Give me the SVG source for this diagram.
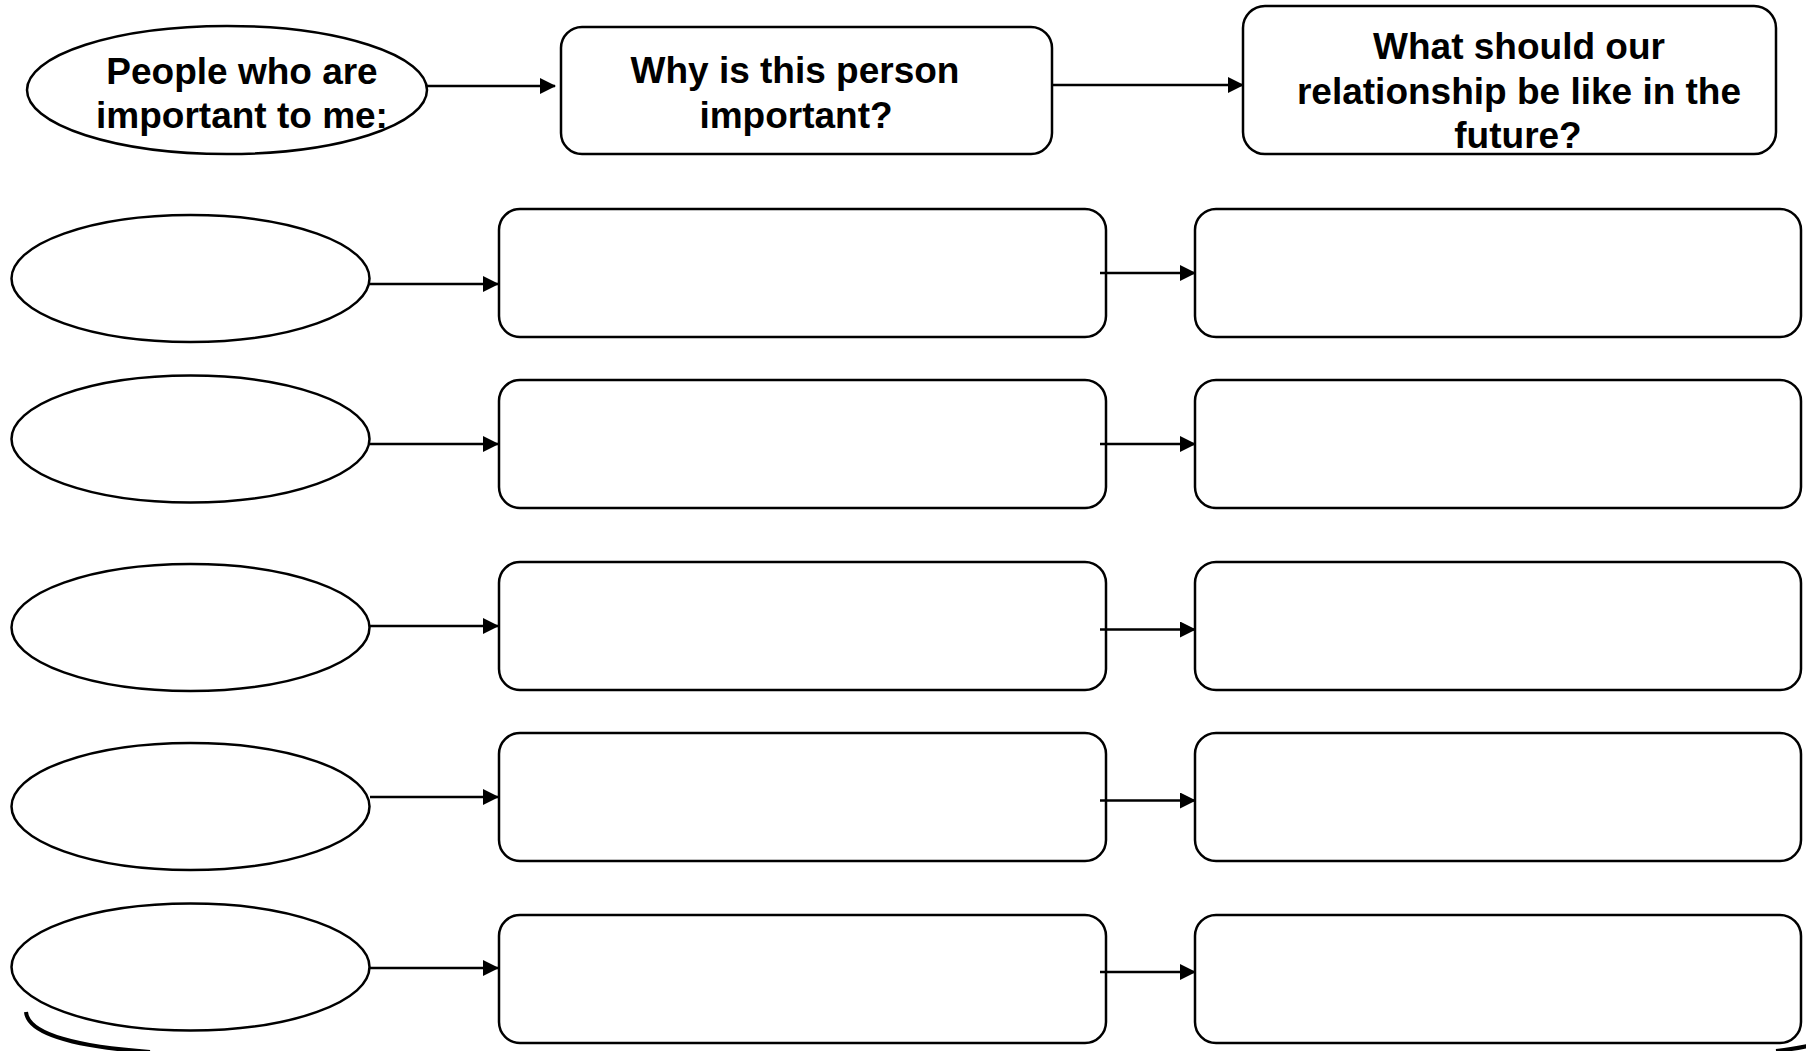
<svg xmlns="http://www.w3.org/2000/svg" width="1806" height="1051" viewBox="0 0 1806 1051">
  <style>
    .shape { fill: #ffffff; stroke: #000000; stroke-width: 2.5; }
    .link { fill: none; stroke: #000000; stroke-width: 2.5; }
    .label { font-family: "Liberation Sans", Arial, sans-serif; font-weight: bold; font-size: 37px; fill: #000000; text-anchor: middle; }
    .mark { fill: none; stroke: #000000; stroke-width: 4; stroke-linecap: butt; }
  </style>
  <defs>
    <marker id="arrow" markerUnits="userSpaceOnUse" markerWidth="16" markerHeight="16" refX="15" refY="8" orient="auto">
      <path d="M0,0 L16,8 L0,16 Z" fill="#000000"/>
    </marker>
  </defs>
  <rect width="1806" height="1051" fill="#ffffff"/>

  <!-- Column headings -->
  <g id="head-people">
    <ellipse class="shape" cx="227" cy="90" rx="200" ry="64"/>
    <text class="label" x="242" y="84">People who are</text>
    <text class="label" x="242" y="128">important to me:</text>
  </g>
  <g id="head-why">
    <rect class="shape" x="561" y="27" width="491" height="127" rx="21"/>
    <text class="label" x="795" y="83">Why is this person</text>
    <text class="label" x="796" y="128">important?</text>
  </g>
  <g id="head-future">
    <rect class="shape" x="1243" y="6" width="533" height="148" rx="22"/>
    <text class="label" x="1519" y="59">What should our</text>
    <text class="label" x="1519" y="104">relationship be like in the</text>
    <text class="label" x="1518" y="148">future?</text>
  </g>

  <!-- Row 1 -->
  <g id="person-1"><ellipse class="shape" cx="190.5" cy="278.5" rx="179" ry="63.5"/></g>
  <g id="why-1"><rect class="shape" x="499" y="209" width="607" height="128" rx="21"/></g>
  <g id="future-1"><rect class="shape" x="1195" y="209" width="606" height="128" rx="21"/></g>

  <!-- Row 2 -->
  <g id="person-2"><ellipse class="shape" cx="190.5" cy="439" rx="179" ry="63.5"/></g>
  <g id="why-2"><rect class="shape" x="499" y="380" width="607" height="128" rx="21"/></g>
  <g id="future-2"><rect class="shape" x="1195" y="380" width="606" height="128" rx="21"/></g>

  <!-- Row 3 -->
  <g id="person-3"><ellipse class="shape" cx="190.5" cy="627.5" rx="179" ry="63.5"/></g>
  <g id="why-3"><rect class="shape" x="499" y="562" width="607" height="128" rx="21"/></g>
  <g id="future-3"><rect class="shape" x="1195" y="562" width="606" height="128" rx="21"/></g>

  <!-- Row 4 -->
  <g id="person-4"><ellipse class="shape" cx="190.5" cy="806.5" rx="179" ry="63.5"/></g>
  <g id="why-4"><rect class="shape" x="499" y="733" width="607" height="128" rx="21"/></g>
  <g id="future-4"><rect class="shape" x="1195" y="733" width="606" height="128" rx="21"/></g>

  <!-- Row 5 -->
  <g id="person-5"><ellipse class="shape" cx="190.5" cy="967" rx="179" ry="63.5"/></g>
  <g id="why-5"><rect class="shape" x="499" y="915" width="607" height="128" rx="21"/></g>
  <g id="future-5"><rect class="shape" x="1195" y="915" width="606" height="128" rx="21"/></g>

  <!-- Stray curved strokes at the lower edge -->
  <g id="edge-strokes">
    <path class="mark" d="M26,1012 C28,1035 80,1047 150,1052"/>
    <path class="mark" d="M1776,1051 C1788,1050 1798,1048 1808,1046"/>
  </g>

  <!-- Connectors -->
  <g id="connectors">
    <line class="link" x1="427" y1="86" x2="555" y2="86" stroke-width="2" marker-end="url(#arrow)"/>
    <line class="link" x1="1052" y1="85" x2="1243" y2="85" stroke-width="3.5" marker-end="url(#arrow)"/>

    <line class="link" x1="370" y1="284" x2="498" y2="284" marker-end="url(#arrow)"/>
    <line class="link" x1="1100" y1="273" x2="1195" y2="273" marker-end="url(#arrow)"/>

    <line class="link" x1="370" y1="444" x2="498" y2="444" marker-end="url(#arrow)"/>
    <line class="link" x1="1100" y1="444" x2="1195" y2="444" marker-end="url(#arrow)"/>

    <line class="link" x1="370" y1="626" x2="498" y2="626" marker-end="url(#arrow)"/>
    <line class="link" x1="1100" y1="629.5" x2="1195" y2="629.5" marker-end="url(#arrow)"/>

    <line class="link" x1="370" y1="797" x2="498" y2="797" marker-end="url(#arrow)"/>
    <line class="link" x1="1100" y1="800.5" x2="1195" y2="800.5" marker-end="url(#arrow)"/>

    <line class="link" x1="370" y1="968" x2="498" y2="968" marker-end="url(#arrow)"/>
    <line class="link" x1="1100" y1="972" x2="1195" y2="972" marker-end="url(#arrow)"/>
  </g>
</svg>
